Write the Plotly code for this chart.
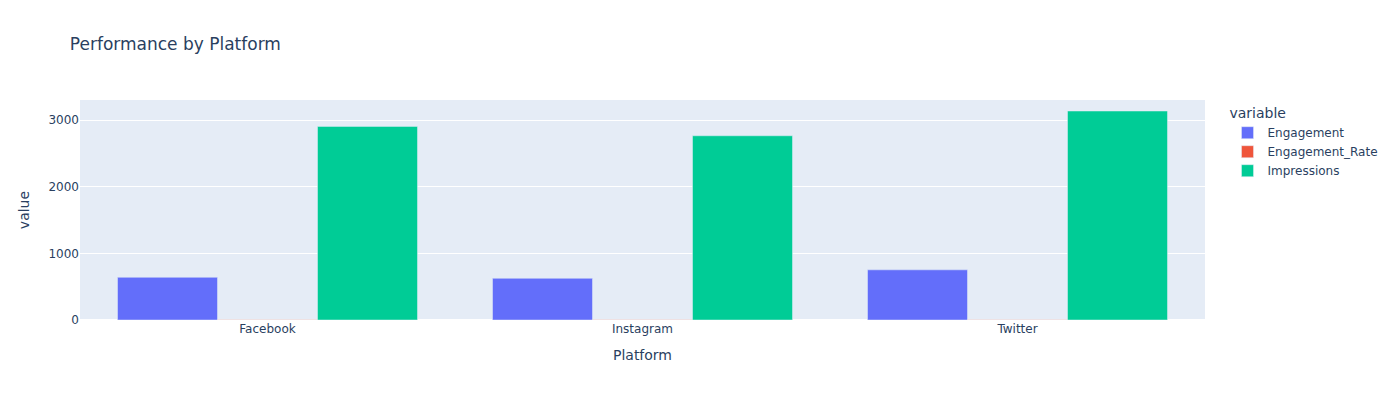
import plotly.graph_objects as go

platforms = ["Facebook", "Instagram", "Twitter"]
engagement = [641, 626, 753]
engagement_rate = [4.8, 4.5, 5.2]
impressions = [2906, 2765, 3137]

series = [
    ("Engagement", engagement, "#636efa"),
    ("Engagement_Rate", engagement_rate, "#EF553B"),
    ("Impressions", impressions, "#00cc96"),
]

fig = go.Figure()
for name, vals, color in series:
    fig.add_trace(go.Bar(x=platforms, y=vals, name=name, marker_color=color,
                         legendgroup=name, offsetgroup=name))

fig.update_layout(
    template="plotly",
    barmode="group",
    title=dict(text="Performance by Platform"),
    xaxis_title="Platform",
    yaxis_title="value",
    legend=dict(title_text="variable", tracegroupgap=0),
    font=dict(family="DejaVu Sans, Verdana, sans-serif"),
    width=1396,
    height=400,
)
fig.write_html("out.html", config={"displayModeBar": False},
               post_script="document.body.style.margin='0';")
